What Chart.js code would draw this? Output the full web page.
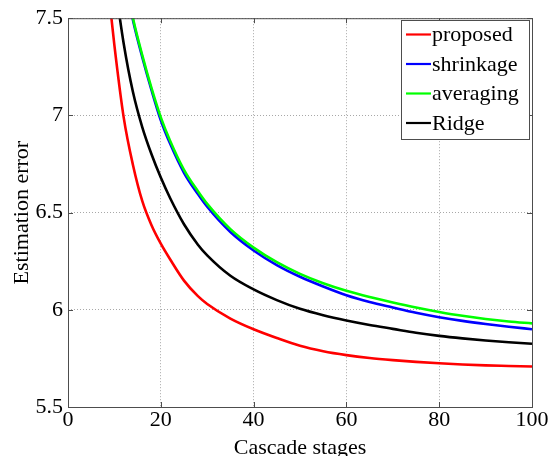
<!DOCTYPE html>
<html>
<head>
<meta charset="utf-8">
<script src="https://cdn.jsdelivr.net/npm/chart.js@4/dist/chart.umd.min.js"></script>
<style>
  html, body { margin: 0; padding: 0; background: #fff; }
  #wrap { width: 551px; height: 456px; }
</style>
</head>
<body>
<div id="wrap"><canvas id="errChart" width="551" height="456"></canvas></div>
<script>
const stages    = [8, 10, 12, 14, 16, 18, 20, 22, 25, 28, 30, 35, 40, 45, 50, 55, 60, 65, 70, 75, 80, 85, 90, 95, 100];
const proposed  = [7.80, 7.36, 6.99, 6.745, 6.56, 6.435, 6.34, 6.26, 6.15, 6.07, 6.03, 5.955, 5.90, 5.855, 5.815, 5.787, 5.767, 5.752, 5.741, 5.732, 5.725, 5.719, 5.714, 5.711, 5.708];
const shrinkage = [8.28, 7.99, 7.73, 7.49, 7.30, 7.13, 6.975, 6.855, 6.705, 6.595, 6.53, 6.40, 6.305, 6.23, 6.17, 6.12, 6.075, 6.04, 6.012, 5.985, 5.962, 5.943, 5.927, 5.913, 5.90];
const averaging = [8.30, 8.01, 7.74, 7.50, 7.31, 7.14, 6.99, 6.87, 6.72, 6.61, 6.545, 6.415, 6.32, 6.245, 6.185, 6.137, 6.098, 6.066, 6.038, 6.012, 5.989, 5.969, 5.953, 5.94, 5.93];
const ridge     = [8.05, 7.70, 7.37, 7.12, 6.94, 6.80, 6.68, 6.575, 6.44, 6.335, 6.28, 6.175, 6.105, 6.05, 6.005, 5.972, 5.945, 5.922, 5.902, 5.882, 5.866, 5.853, 5.842, 5.833, 5.825];
const seriesNames  = ["proposed", "shrinkage", "averaging", "Ridge"];
const seriesColors = ["#ff0000", "#0000ff", "#00ff00", "#000000"];
const xTicks = [0, 20, 40, 60, 80, 100];
const yTicks = [5.5, 6, 6.5, 7, 7.5];

const FONT = "'Liberation Serif', 'Times New Roman', serif";

function toPoints(vals) {
  return stages.map((s, i) => ({ x: s, y: vals[i] }));
}

const allSeries = [proposed, shrinkage, averaging, ridge];
// green sits on top of blue in the picture
const datasets = allSeries.map((vals, i) => ({
  label: seriesNames[i],
  data: toPoints(vals),
  borderColor: seriesColors[i],
  backgroundColor: seriesColors[i],
  borderWidth: 2.6,
  pointRadius: 0,
  cubicInterpolationMode: "monotone",
  fill: false,
  order: i === 2 ? 0 : 1
}));

// box round the axes, inward tick marks and the legend
const matlabBox = {
  id: "matlabBox",
  afterDatasetsDraw(chart) {
    const { ctx, chartArea: a, scales } = chart;
    ctx.save();
    ctx.strokeStyle = "#4d4d4d";
    ctx.lineWidth = 1;
    ctx.strokeRect(a.left + 0.5, a.top + 0.5, a.right - a.left, a.bottom - a.top);
    ctx.beginPath();
    xTicks.forEach(t => {
      const px = Math.round(scales.x.getPixelForValue(t)) + 0.5;
      ctx.moveTo(px, a.bottom); ctx.lineTo(px, a.bottom - 5);
      ctx.moveTo(px, a.top); ctx.lineTo(px, a.top + 5);
    });
    yTicks.forEach(t => {
      const py = Math.round(scales.y.getPixelForValue(t)) + 0.5;
      ctx.moveTo(a.left, py); ctx.lineTo(a.left + 5, py);
      ctx.moveTo(a.right, py); ctx.lineTo(a.right - 5, py);
    });
    ctx.stroke();

    // legend
    const bx = 401.5, by = 20.5, bw = 128, bh = 119;
    ctx.fillStyle = "#fff";
    ctx.fillRect(bx, by, bw, bh);
    ctx.strokeStyle = "#4d4d4d";
    ctx.strokeRect(bx, by, bw, bh);
    ctx.font = "22px " + FONT;
    ctx.textBaseline = "middle";
    ctx.textAlign = "left";
    chart.data.datasets.forEach((ds, i) => {
      const y = 34.5 + i * 29.5;
      ctx.strokeStyle = ds.borderColor;
      ctx.lineWidth = 2.2;
      ctx.beginPath();
      ctx.moveTo(406, y); ctx.lineTo(431, y);
      ctx.stroke();
      ctx.fillStyle = "#000";
      ctx.fillText(ds.label, 432, y + 1);
    });
    ctx.restore();
  }
};

new Chart(document.getElementById("errChart").getContext("2d"), {
  type: "line",
  data: { datasets },
  options: {
    responsive: false,
    animation: false,
    layout: { padding: { top: 16, right: 19, left: 0, bottom: 0 } },
    plugins: {
      legend: { display: false },
      tooltip: { enabled: false }
    },
    scales: {
      x: {
        type: "linear",
        min: 0, max: 100,
        afterBuildTicks: s => { s.ticks = xTicks.map(v => ({ value: v })); },
        afterFit: s => { s.height = 49; },
        ticks: {
          color: "#000",
          font: { family: FONT, size: 22 },
          padding: 0,
          maxRotation: 0,
          callback: v => String(v)
        },
        grid: {
          drawTicks: false,
          color: "#a8a8a8",
          lineWidth: 1
        },
        border: { display: false, dash: [1, 2] },
        title: {
          display: true,
          text: "Cascade stages",
          color: "#000",
          font: { family: FONT, size: 22 },
          padding: { top: 0, bottom: -5 }
        }
      },
      y: {
        min: 5.5, max: 7.5,
        afterBuildTicks: s => { s.ticks = yTicks.map(v => ({ value: v })); },
        afterFit: s => { s.width = 68; },
        ticks: {
          color: "#000",
          font: { family: FONT, size: 22 },
          padding: 5,
          callback: v => String(v)
        },
        grid: {
          drawTicks: false,
          color: "#a8a8a8",
          lineWidth: 1
        },
        border: { display: false, dash: [1, 2] },
        title: {
          display: true,
          text: "Estimation error",
          color: "#000",
          font: { family: FONT, size: 22 },
          padding: { top: 9, bottom: 0 }
        }
      }
    }
  },
  plugins: [matlabBox]
});
</script>
</body>
</html>
